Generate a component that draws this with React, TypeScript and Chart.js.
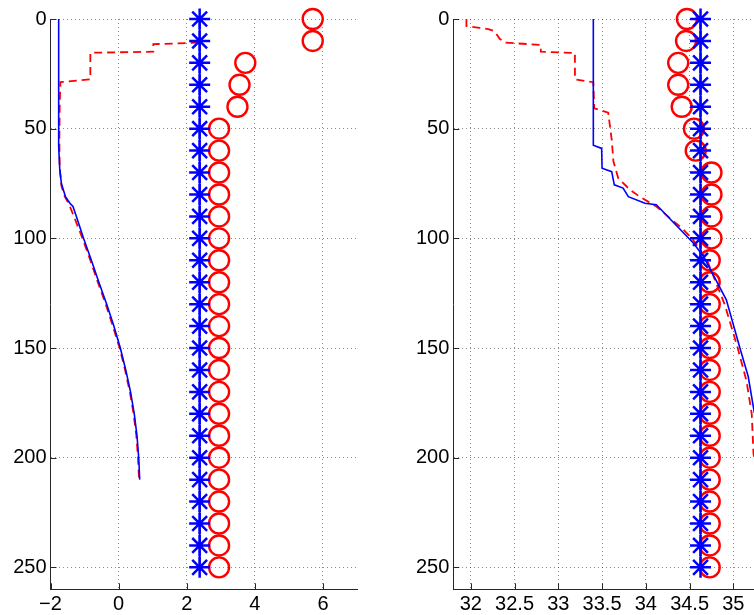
import React, { useEffect, useRef } from "react";
import { Chart, registerables } from "chart.js";

Chart.register(...registerables);

// ---------- shared depth values ----------
const markerDepths = [0, 10, 20, 30, 40, 50, 60, 70, 80, 90, 100, 110, 120, 130, 140, 150, 160, 170, 180, 190, 200, 210, 220, 230, 240, 250];
const depthTicks = [0, 50, 100, 150, 200, 250];

// ---------- left panel (temperature) ----------
const tempTicks = [-2, 0, 2, 4, 6];
const tempStarX = 2.38;
const tempCircleX = [5.7, 5.7, 3.72, 3.55, 3.49, 2.95, 2.95, 2.95, 2.95, 2.95, 2.95, 2.95, 2.95, 2.95, 2.95, 2.95, 2.95, 2.95, 2.95, 2.95, 2.95, 2.95, 2.95, 2.95, 2.95, 2.95];

const tempModelDepth = [0, 58, 68, 75, 81, 84, 85.5, 90, 100, 110, 120, 130, 140, 150, 160, 170, 180, 190, 200, 210];
const tempModelX = [-1.76, -1.76, -1.73, -1.68, -1.56, -1.43, -1.34, -1.24, -1.03, -0.8, -0.58, -0.35, -0.14, 0.05, 0.21, 0.35, 0.46, 0.54, 0.59, 0.62];

const tempObsDepth = [10.8, 11.5, 14.9, 15.4, 27.5, 28.8, 40, 55, 68, 76, 81, 84, 87, 100, 110, 120, 130, 140, 150, 160, 170, 180, 190, 200, 210];
const tempObsX = [2.35, 1.02, 1.02, -0.83, -0.83, -1.71, -1.73, -1.74, -1.73, -1.68, -1.58, -1.47, -1.39, -1.06, -0.83, -0.61, -0.38, -0.17, 0.03, 0.19, 0.33, 0.44, 0.52, 0.57, 0.6];

// ---------- right panel (salinity) ----------
const salTicks = [32, 32.5, 33, 33.5, 34, 34.5, 35];
const salStarX = 34.625;
const salCircleX = [34.47, 34.46, 34.37, 34.37, 34.41, 34.55, 34.57, 34.75, 34.75, 34.75, 34.75, 34.73, 34.73, 34.73, 34.73, 34.73, 34.73, 34.73, 34.73, 34.73, 34.73, 34.73, 34.73, 34.73, 34.73, 34.73];

const salModelDepth = [0, 57.5, 59, 68, 69.6, 75.6, 77.1, 81, 84, 84.7, 102, 108.3, 128, 149.3, 163, 179.6, 195, 210];
const salModelX = [33.4, 33.4, 33.495, 33.5, 33.61, 33.64, 33.74, 33.8, 33.99, 34.12, 34.54, 34.66, 34.92, 35.07, 35.17, 35.24, 35.3, 35.33];

const salObsDepth = [0, 3.2, 4.0, 4.6, 5.5, 9, 10.8, 11.8, 14.9, 15.5, 27.5, 28.8, 40.7, 42.7, 55, 65, 72.6, 77.9, 81, 85.5, 96, 100.7, 110, 130, 150, 165, 180, 198, 210];
const salObsX = [31.95, 31.95, 32.1, 32.2, 32.27, 32.33, 32.4, 32.8, 32.8, 33.19, 33.19, 33.4, 33.41, 33.57, 33.61, 33.63, 33.685, 33.82, 33.93, 34.12, 34.43, 34.54, 34.7, 34.9, 35.05, 35.15, 35.21, 35.23, 35.28];

// ---------- styling ----------
const FONT = '"Liberation Sans", Arial, Helvetica, sans-serif';
const AXIS_COLOR = "#262626";
const GRID_COLOR = "rgba(0,0,0,0.45)";

const zip = (xs: number[], ys: number[]) => xs.map((x, i) => ({ x, y: ys[i] }));

const inwardTicks = {
  id: "inwardTicks",
  afterDraw(chart: any) {
    const { ctx, chartArea, scales } = chart;
    ctx.save();
    ctx.strokeStyle = AXIS_COLOR;
    ctx.lineWidth = 1;
    ctx.beginPath();
    scales.x.ticks.forEach((t: any) => {
      const px = Math.round(scales.x.getPixelForValue(t.value)) + 0.5;
      ctx.moveTo(px, chartArea.bottom);
      ctx.lineTo(px, chartArea.bottom - 6);
    });
    scales.y.ticks.forEach((t: any) => {
      const py = Math.round(scales.y.getPixelForValue(t.value)) + 0.5;
      ctx.moveTo(chartArea.left, py);
      ctx.lineTo(chartArea.left + 6, py);
    });
    ctx.stroke();
    ctx.restore();
  },
};

function fmt(v: number) {
  return v < 0 ? "\u2212" + Math.abs(v) : String(v);
}

function makeConfig(p: {
  xMin: number; xMax: number; xTicks: number[]; yAxisWidth: number; padRight: number;
  starX: number; circleX: number[]; modelX: number[]; modelDepth: number[]; obsX: number[]; obsDepth: number[];
}) {
  const tickFont = { family: FONT, size: 20 };
  return {
    type: "scatter",
    data: {
      datasets: [
        {
          data: markerDepths.map((d) => ({ x: p.starX, y: d })),
          showLine: true,
          borderColor: "#0000ff",
          borderWidth: 2,
          pointStyle: "star",
          pointRadius: 10.5,
          pointBorderWidth: 2.5,
          pointBorderColor: "#0000ff",
          pointBackgroundColor: "#0000ff",
          clip: false,
        },
        {
          data: zip(p.modelX, p.modelDepth),
          showLine: true,
          borderColor: "#0000ff",
          borderWidth: 1.6,
          pointRadius: 0,
        },
        {
          data: zip(p.obsX, p.obsDepth),
          showLine: true,
          borderColor: "#ff0000",
          borderWidth: 1.8,
          borderDash: [8, 5],
          pointRadius: 0,
        },
        {
          data: zip(p.circleX, markerDepths),
          showLine: false,
          pointStyle: "circle",
          pointRadius: 10,
          pointBorderWidth: 2.4,
          pointBorderColor: "#ff0000",
          pointBackgroundColor: "rgba(0,0,0,0)",
          clip: false,
        },
      ],
    },
    options: {
      animation: false,
      responsive: false,
      events: [],
      layout: { padding: { top: 19, right: p.padRight, left: 0, bottom: 0 } },
      plugins: { legend: { display: false }, tooltip: { enabled: false } },
      scales: {
        x: {
          type: "linear",
          min: p.xMin,
          max: p.xMax,
          afterBuildTicks: (s: any) => {
            s.ticks = p.xTicks.map((v) => ({ value: v }));
          },
          afterFit: (s: any) => {
            s.height = 615 - 589.3;
            s.paddingLeft = 0;
            s.paddingRight = 0;
          },
          grid: { color: GRID_COLOR, lineWidth: 1, drawTicks: false },
          border: { display: true, color: AXIS_COLOR, width: 1, dash: [1, 3] },
          ticks: { color: "#000", font: tickFont, padding: 3, maxRotation: 0, callback: (v: any) => fmt(v) },
        },
        y: {
          type: "linear",
          reverse: true,
          min: 0,
          max: 260,
          afterBuildTicks: (s: any) => {
            s.ticks = depthTicks.map((v) => ({ value: v }));
          },
          afterFit: (s: any) => {
            s.width = p.yAxisWidth;
            s.paddingTop = 0;
            s.paddingBottom = 0;
          },
          grid: { color: GRID_COLOR, lineWidth: 1, drawTicks: false },
          border: { display: true, color: AXIS_COLOR, width: 1, dash: [1, 3] },
          ticks: { color: "#000", font: tickFont, padding: 4 },
        },
      },
    },
    plugins: [inwardTicks],
  } as any;
}

export default function App() {
  const leftRef = useRef<HTMLCanvasElement>(null);
  const rightRef = useRef<HTMLCanvasElement>(null);

  useEffect(() => {
    const left = new Chart(
      leftRef.current!,
      makeConfig({
        xMin: -2, xMax: 7, xTicks: tempTicks, yAxisWidth: 50.5, padRight: 23,
        starX: tempStarX, circleX: tempCircleX, modelX: tempModelX, modelDepth: tempModelDepth,
        obsX: tempObsX, obsDepth: tempObsDepth,
      })
    );
    const right = new Chart(
      rightRef.current!,
      makeConfig({
        xMin: 31.8, xMax: 35.236, xTicks: salTicks, yAxisWidth: 73.3, padRight: 46,
        starX: salStarX, circleX: salCircleX, modelX: salModelX, modelDepth: salModelDepth,
        obsX: salObsX, obsDepth: salObsDepth,
      })
    );
    return () => {
      left.destroy();
      right.destroy();
    };
  }, []);

  return (
    <div style={{ position: "fixed", left: 0, top: 0, width: 754, height: 615, overflow: "hidden", background: "#fff" }}>
      <div style={{ position: "absolute", left: 0, top: 0, width: 380, height: 615 }}>
        <canvas ref={leftRef} width={380} height={615} style={{ display: "block" }} />
      </div>
      <div style={{ position: "absolute", left: 380, top: 0, width: 374, height: 615, overflow: "hidden" }}>
        <canvas ref={rightRef} width={420} height={615} style={{ display: "block" }} />
      </div>
    </div>
  );
}
